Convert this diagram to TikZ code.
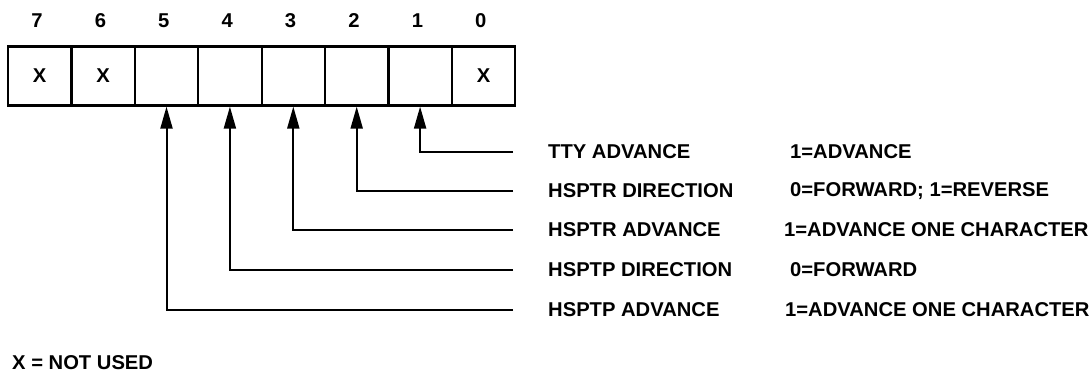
\documentclass[tikz,border=0pt]{standalone}
\usepackage{fontspec}
\setmainfont{Liberation Sans}[FakeStretch=1.01]
\usetikzlibrary{arrows.meta}
\begin{document}
\begin{tikzpicture}[x=1pt,y=-1pt,
  cell/.style={draw,line width=2.2pt,minimum width=63.4pt,minimum height=59pt,inner sep=0pt,font=\fontsize{20}{22}\selectfont\bfseries},
  lab/.style={inner sep=0pt,anchor=west,font=\fontsize{20}{22}\selectfont\bfseries},
  bitnum/.style={inner sep=0pt,font=\fontsize{20}{22}\selectfont\bfseries},
  conn/.style={line width=2pt,-{Triangle[length=22pt,width=12pt]}}]
\useasboundingbox (0,0) rectangle (1091,373);
% register cells
\foreach \i/\t in {7/X,6/X,5/{},4/{},3/{},2/{},1/{},0/X}{
  \node[cell] (c\i) at ({8+63.4*(7-\i)+31.7},76) {\t};
  \node[bitnum] (b\i) at ({8+63.4*(7-\i)+29},21) {\i};
}
% line end coordinates
\coordinate (e1) at (513,152);
\coordinate (e2) at (513,191);
\coordinate (e3) at (513,230);
\coordinate (e4) at (513,270);
\coordinate (e5) at (513,310);
% labels
\node[lab] (n1) at (548,152) {TTY ADVANCE};
\node[lab] (n2) at (548,191) {HSPTR DIRECTION};
\node[lab] (n3) at (548,230) {HSPTR ADVANCE};
\node[lab] (n4) at (548,270) {HSPTP DIRECTION};
\node[lab] (n5) at (548,310) {HSPTP ADVANCE};
\node[lab] (v1) at (790,152) {1=ADVANCE};
\node[lab] (v2) at (790,191) {0=FORWARD; 1=REVERSE};
\node[lab] (v3) at (784,230) {1=ADVANCE ONE CHARACTER};
\node[lab] (v4) at (790,270) {0=FORWARD};
\node[lab] (v5) at (785,310) {1=ADVANCE ONE CHARACTER};
\node[lab] (key) at (12,363) {X = NOT USED};
% connectors
\draw[conn] (e1) -| (c1.south);
\draw[conn] (e2) -| (c2.south);
\draw[conn] (e3) -| (c3.south);
\draw[conn] (e4) -| (c4.south);
\draw[conn] (e5) -| (c5.south);
\end{tikzpicture}
\end{document}
